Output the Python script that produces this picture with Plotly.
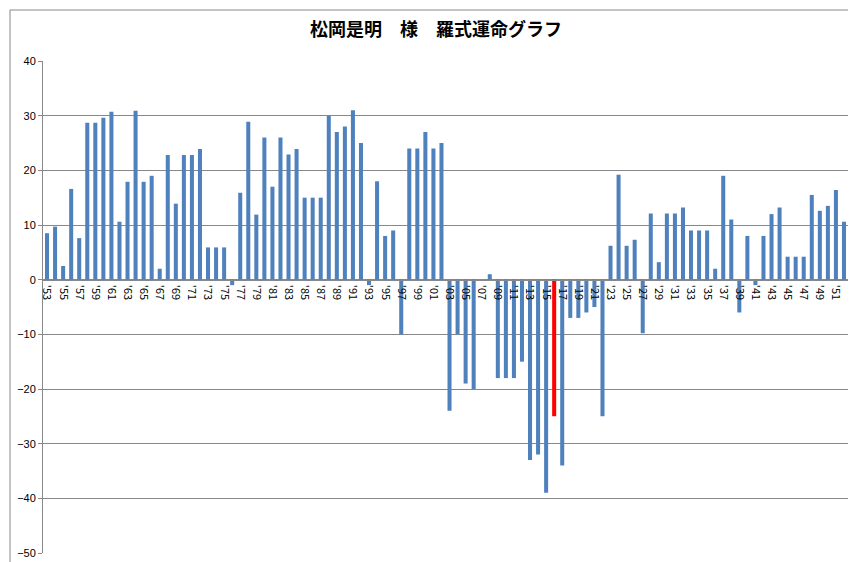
import plotly.graph_objects as go

years = list(range(1953, 2053))
values = [8.5, 9.7, 2.5, 16.6, 7.6, 28.7, 28.7, 29.6, 30.7, 10.6,
          17.9, 30.9, 17.9, 19, 2, 22.8, 13.9, 22.8, 22.8, 23.9,
          5.9, 5.9, 5.9, -1, 15.9, 28.9, 11.9, 26, 17, 26,
          22.9, 23.9, 15, 15, 15, 30, 27, 28, 31, 25,
          -1, 18, 8, 9, -10, 24, 24, 27, 24, 25,
          -24, -10, -19, -20, 0, 1, -18, -18, -18, -15,
          -33, -32, -39, -25, -34, -7, -7, -6, -5, -25,
          6.2, 19.2, 6.2, 7.3, -9.8, 12.1, 3.2, 12.1, 12.1, 13.2,
          9, 9, 9, 2, 19, 11, -6, 8, -1, 8,
          12, 13.2, 4.2, 4.2, 4.2, 15.5, 12.6, 13.5, 16.4, 10.6]
highlight_year = 2016
tick_years = years[::2]
tick_text = ["'" + str(y)[2:] for y in tick_years]

colors = ['#FF0000' if y == highlight_year else '#4F81BD' for y in years]

fig = go.Figure(go.Bar(x=years, y=values, marker_color=colors, marker_line_width=0))
W, H = 856, 562
l, r, t, b = 35, 16, 53, 17
pw, ph = W - l - r, H - t - b
fig.update_layout(
    width=W, height=H, margin=dict(l=l, r=r, t=t, b=b, autoexpand=False),
    paper_bgcolor='white', plot_bgcolor='white', bargap=0.5, showlegend=False,
    title=dict(text='<b>松岡是明　様　羅式運命グラフ</b>', x=0.5, xanchor='center', y=1 - 22 / H,
               yanchor='middle', automargin=False,
               font=dict(family='Noto Sans CJK JP', size=18, color='#000')),
    font=dict(family='Noto Sans CJK JP', color='#000'),
    xaxis=dict(range=[1952.5, 2052.5], tickmode='array', tickvals=tick_years, ticktext=tick_text,
               tickangle=90, tickfont=dict(size=11), showgrid=False, anchor='free', position=50 / 90,
               showline=True, linecolor='#888', ticks='outside', ticklen=2, tickcolor='rgba(0,0,0,0)',
               zeroline=False, automargin=False),
    yaxis=dict(range=[-50, 40], dtick=10, showgrid=True, gridcolor='#888', gridwidth=1,
               zeroline=False, showline=True, linecolor='#888', ticks='outside', ticklen=4,
               tickcolor='#888', tickfont=dict(size=11, family='Liberation Sans'), automargin=False),
    shapes=[dict(type='rect', xref='paper', yref='paper', x0=-33 / pw, x1=1 + 14 / pw,
                 y0=-15 / ph, y1=1 + 51 / ph, line=dict(color='#888', width=1))],
)
fig.write_html('out.html')
